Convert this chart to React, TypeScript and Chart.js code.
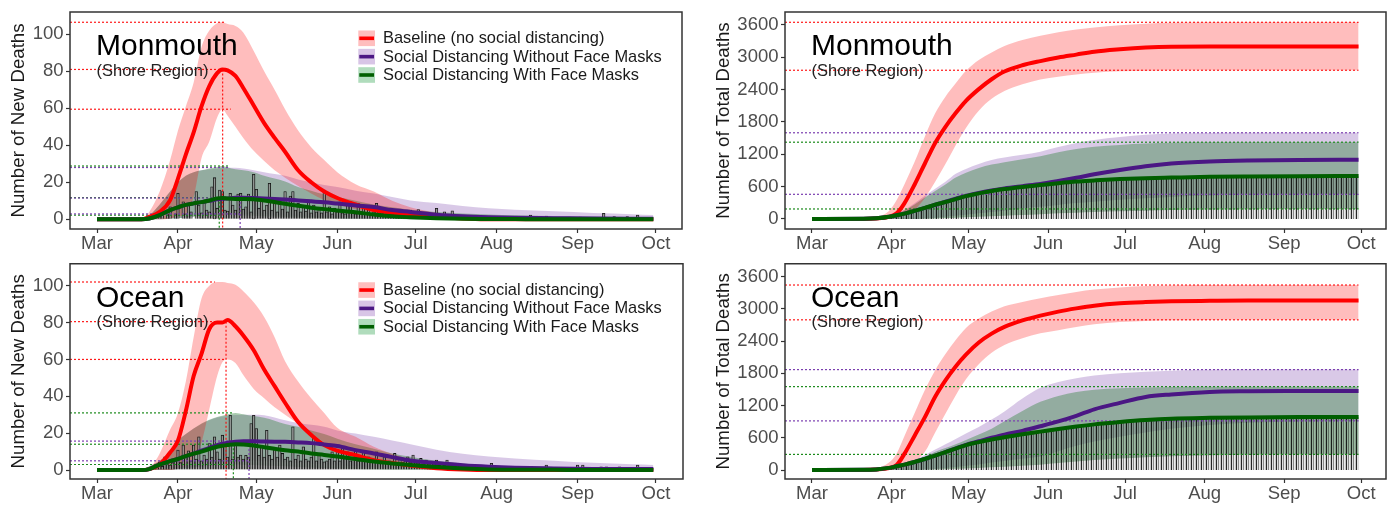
import React, { useEffect, useRef } from "react";
import { Chart, registerables } from "chart.js";

Chart.register(...registerables);

const FONT = "'Liberation Sans', Arial, Helvetica, sans-serif";

// ---------------- axes / labels ----------------
const MONTH_DAYS = [0, 31, 61, 92, 122, 153, 184, 214]; // days since 1 March
const MONTH_LABELS = ["Mar", "Apr", "May", "Jun", "Jul", "Aug", "Sep", "Oct"];
const NEW_TICKS = [0, 20, 40, 60, 80, 100];
const TOTAL_TICKS = [0, 600, 1200, 1800, 2400, 3000, 3600];
const LEGEND_LABELS = [
  "Baseline (no social distancing)",
  "Social Distancing Without Face Masks",
  "Social Distancing With Face Masks",
];
const SUBTITLE = "(Shore Region)";

// ---------------- daily new deaths ----------------
const DAYS_NEW = [0, 17, 20, 24, 28, 31, 34, 37, 40, 43, 46, 48, 50, 53, 56, 60, 64, 68, 72, 77, 82, 87, 92, 99, 106, 113, 120, 130, 140, 150, 160, 175, 190, 205, 213];

const MON_NEW_RED = [0, 0, 1.3, 4, 10.4, 22, 35, 47, 61, 72, 79, 81, 80.5, 77.5, 71, 61.5, 52, 44, 36.5, 26.5, 20, 15, 11.5, 8, 5, 3.5, 2.5, 1.2, 0.5, 0, 0, 0, 0, 0, 0];
const MON_NEW_RED_HI = [0, 0, 4, 15, 32, 48, 61, 74, 93, 102, 106, 106.5, 105.5, 104.5, 101, 91, 80, 70, 59.5, 48, 39, 32, 25.5, 19, 15, 10, 6.5, 3.5, 1.5, 0.5, 0, 0, 0, 0, 0];
const MON_NEW_RED_LO = [0, 0, 0, 0, 0.5, 1.5, 3, 12, 33, 42, 55, 59.5, 56, 50, 44, 37, 31.5, 26.5, 22.5, 18, 14, 10.5, 8, 5.5, 3.5, 2, 1.2, 0.5, 0, 0, 0, 0, 0, 0, 0];
const MON_NEW_PUR = [0, 0, 0.4, 2.3, 5, 6.5, 7.8, 8.6, 9.3, 10, 10.8, 11.1, 11.3, 11.6, 11.7, 11.5, 11.2, 11, 10.7, 10.2, 9.7, 9.2, 8.5, 7.5, 6.6, 5, 4, 2.5, 1.6, 1.1, 0.8, 0.6, 0.4, 0.3, 0.3];
const MON_NEW_PUR_HI = [0, 0, 2, 8, 15, 20, 23.5, 25.5, 26.5, 27, 27.5, 27.8, 28, 27.8, 27.5, 26.5, 25.5, 24.5, 23.5, 21.5, 20, 18.5, 17.5, 15.5, 14, 12, 10.2, 8.8, 7.2, 6, 5.2, 4.3, 3.4, 2.8, 2.3];
const MON_NEW_PUR_LO = [0, 0, 0, 0, 0.3, 0.6, 1.1, 1.6, 2, 2.3, 2.5, 2.6, 2.7, 2.8, 2.9, 2.8, 2.6, 2.3, 2, 1.6, 1.2, 0.9, 0.6, 0.4, 0.2, 0.1, 0, 0, 0, 0, 0, 0, 0, 0, 0];
const MON_NEW_GRN = [0, 0, 0.4, 2.3, 5, 6.5, 7.8, 8.6, 9.3, 10.2, 11.3, 11.5, 11.2, 11, 11, 10.8, 10.2, 9.4, 8.4, 7.3, 6.3, 5.5, 4.8, 3.8, 2.6, 1.6, 1.1, 0.6, 0.3, 0.2, 0.1, 0, 0, 0, 0];
const MON_NEW_GRN_HI = [0, 0, 2, 8, 15, 20, 23.5, 25.5, 26.5, 27.5, 28.3, 28.8, 28, 27, 26.5, 25.5, 23.5, 22, 20.5, 17.5, 15.5, 13.5, 12, 10, 8, 6.5, 5.2, 4, 3.2, 2.6, 2.2, 1.8, 1.5, 1.3, 1.3];
const MON_NEW_GRN_LO = [0, 0, 0, 0, 0.3, 0.6, 1, 1.4, 1.8, 2.1, 2.3, 2.3, 2.3, 2.2, 2.1, 1.9, 1.7, 1.5, 1.3, 1, 0.8, 0.6, 0.5, 0.3, 0.2, 0.1, 0, 0, 0, 0, 0, 0, 0, 0, 0];

const OCE_NEW_RED = [0, 0, 0.5, 3, 9.5, 16, 32, 51, 63, 76.5, 80, 80, 81.4, 78, 73, 65, 54.5, 45.5, 36.5, 26, 19, 13.5, 10.5, 8, 5.4, 3.8, 2.4, 1, 0.3, 0, 0, 0, 0, 0, 0];
const OCE_NEW_RED_HI = [0, 0, 1, 9, 22, 31, 48, 72, 93, 100, 102, 102, 101.5, 100.5, 97, 91, 83, 72, 59, 48, 39, 31, 23, 18, 12.6, 8.8, 5.8, 2.2, 0.3, 0, 0, 0, 0, 0, 0];
const OCE_NEW_RED_LO = [0, 0, 0, 0, 0, 1, 2, 6, 15, 33, 51, 58.5, 60, 58, 51.5, 44, 39, 34, 30, 25, 20, 15, 11.5, 8, 5, 3, 1.8, 0.6, 0, 0, 0, 0, 0, 0, 0];
const OCE_NEW_PUR = [0, 0, 0.5, 3, 4.8, 6, 7.6, 8.9, 10.5, 12, 13.5, 14.2, 14.8, 15.4, 15.6, 15.6, 15.5, 15.4, 15.3, 15, 14.6, 13.8, 13, 10.8, 9, 7, 5.2, 3.8, 2.6, 1.8, 1.3, 0.9, 0.6, 0.5, 0.5];
const OCE_NEW_PUR_HI = [0, 0, 2, 5, 10, 16, 19.5, 22.5, 25, 27, 28.5, 29, 29.5, 29.8, 30, 30, 29.7, 28.5, 27, 25.5, 24.5, 23.5, 21.5, 19.8, 18, 16, 14, 11, 8.8, 7.3, 6.3, 5.1, 3.9, 3.1, 2.7];
const OCE_NEW_PUR_LO = [0, 0, 0, 0, 0, 0.5, 1.2, 1.8, 2.5, 3.2, 3.8, 4.2, 4.5, 4.8, 5, 5, 4.8, 4.5, 4.2, 3.8, 3.4, 3, 2.6, 2.1, 1.6, 1.2, 0.9, 0.5, 0.3, 0.1, 0, 0, 0, 0, 0];
const OCE_NEW_GRN = [0, 0, 0.5, 3, 4.8, 6, 7.6, 8.9, 10, 11.4, 12.6, 13.2, 13.6, 14, 13.8, 13.3, 12.4, 11.5, 10.7, 10, 9, 8.2, 7.3, 6, 4.6, 3.6, 2.7, 1.6, 0.8, 0.3, 0.2, 0.1, 0, 0, 0];
const OCE_NEW_GRN_HI = [0, 0, 2, 5, 10, 16, 19.5, 22.5, 25.3, 27.3, 28.8, 29.5, 30.2, 31, 30.3, 29.3, 28.3, 26.8, 25, 23.5, 21.5, 19.5, 17, 14, 11.5, 9, 7.2, 5, 3.5, 2.6, 2, 1.6, 1.3, 1.1, 1];
const OCE_NEW_GRN_LO = [0, 0, 0, 0, 0, 0.5, 1, 1.4, 1.8, 2.2, 2.6, 2.8, 3, 3, 2.9, 2.7, 2.5, 2.3, 2, 1.7, 1.4, 1.1, 0.9, 0.6, 0.4, 0.2, 0.1, 0, 0, 0, 0, 0, 0, 0, 0];

// observed daily deaths [day, deaths]
const MON_SPIKES: [number, number][] = [
  [22, 1], [24, 1.5], [25, 4], [27, 2.5], [28, 6.8], [30, 3], [31, 14], [33, 9.5], [34, 3], [35, 7.7],
  [36, 4], [38, 15], [39, 7.7], [40, 3.5], [41, 9.5], [42, 5], [43, 4], [44, 17.6], [45, 22.5], [46, 6],
  [47, 15.8], [48, 15], [49, 5], [50, 4.5], [51, 14], [52, 7.7], [53, 5], [54, 13.6], [55, 14], [56, 5.5],
  [57, 6.8], [58, 13.6], [59, 4], [60, 24.3], [61, 16.2], [62, 6], [63, 11.2], [64, 5], [65, 7.7], [66, 19.5],
  [67, 5], [68, 8.6], [69, 4], [70, 10.4], [71, 5.5], [72, 15], [73, 4], [74, 12.6], [75, 15], [76, 5],
  [77, 8.6], [78, 4], [79, 6.8], [80, 4.5], [81, 10.4], [82, 3.5], [83, 7.7], [84, 4], [85, 6], [86, 3.5],
  [87, 15.8], [88, 4], [89, 6.8], [90, 3], [91, 6], [92, 4], [93, 9.5], [94, 3.5], [95, 3], [96, 7.7],
  [97, 9.5], [98, 4], [99, 3], [100, 8.5], [101, 4], [102, 6.8], [103, 3.5], [104, 7.7], [105, 3], [106, 4],
  [107, 8.6], [108, 3], [109, 3.5], [110, 4.1], [111, 3], [112, 3.2], [113, 2.5], [114, 3], [115, 2.5], [116, 4.1],
  [117, 3], [118, 2.5], [119, 3], [120, 5], [121, 2.5], [122, 3], [123, 5.3], [124, 2.5], [125, 3], [126, 3.2],
  [127, 2.5], [128, 2], [129, 2.5], [130, 5.9], [131, 2], [132, 2.5], [133, 4.1], [134, 2], [135, 2], [136, 4.6],
  [137, 2], [138, 2.3], [139, 1.5], [140, 1.5], [141, 2], [142, 1],
  [144, 1.4], [146, 1], [149, 1.4], [152, 1], [155, 0.8], [160, 1], [166, 2.3], [169, 1], [172, 1.8], [176, 1],
  [181, 1.2], [185, 1.2], [190, 1], [194, 3.2], [198, 1.5], [203, 1.5], [207, 2.3], [210, 1],
];
const OCE_SPIKES: [number, number][] = [
  [22, 1], [23, 2], [24, 4.5], [25, 2], [26, 7.2], [27, 3], [28, 2.7], [29, 4], [30, 5], [31, 10.8],
  [32, 4], [33, 13.5], [34, 8.1], [35, 10.4], [36, 5], [37, 13.5], [38, 6], [39, 18], [40, 5], [41, 8.1],
  [42, 6], [43, 14.4], [44, 7], [45, 18], [46, 9.9], [47, 6], [48, 18.9], [49, 13.5], [50, 7], [51, 29.7],
  [52, 6], [53, 13.5], [54, 7], [55, 8.1], [56, 6], [57, 8], [58, 7], [59, 25.2], [60, 29.7], [61, 22.5],
  [62, 8], [63, 13.5], [64, 7], [65, 21.6], [66, 8], [67, 6], [68, 11.7], [69, 7], [70, 13.5], [71, 9],
  [72, 6], [73, 7], [74, 5], [75, 23.4], [76, 6], [77, 8.1], [78, 5], [79, 12.6], [80, 6], [81, 5],
  [82, 7], [83, 18], [84, 5], [85, 8.1], [86, 6], [87, 4.5], [88, 5], [89, 6], [90, 9.9], [91, 5],
  [92, 10.8], [93, 5], [94, 11.7], [95, 6.3], [96, 9.9], [97, 5], [98, 6], [99, 10.8], [100, 5], [101, 6],
  [102, 9.9], [103, 5], [104, 7.2], [105, 5], [106, 6], [107, 9.9], [108, 5], [109, 4], [110, 7.2], [111, 4],
  [112, 5], [113, 4], [114, 9], [115, 4], [116, 6.3], [117, 4], [118, 5], [119, 7.2], [120, 4], [121, 8.1],
  [122, 4], [123, 3.5], [124, 6.3], [125, 3], [126, 5.4], [127, 3], [128, 3.5], [129, 3], [130, 5.4], [131, 2.5],
  [132, 3], [133, 2.5], [134, 5.4], [135, 2], [136, 2.5], [137, 2], [138, 2.7], [140, 1.5], [142, 2.7], [144, 1.5],
  [146, 1.8], [148, 1], [151, 3.6], [155, 1], [160, 1.8], [165, 1], [172, 2.7], [176, 1], [180, 1.2], [184, 2.7],
  [186, 2.7], [189, 1.2], [193, 1.8], [195, 1.8], [198, 1.2], [200, 1.8], [204, 1], [207, 2.7],
];

// dotted reference lines [level, last day]; peaks [day, median peak]
const MON_NEW_RED_REF: [number, number][] = [[106.5, 49.2], [81, 48.1], [59.5, 51.2]];
const MON_NEW_PUR_REF: [number, number][] = [[28, 50.3], [11.5, 54.8], [2.9, 54.8]];
const MON_NEW_GRN_REF: [number, number][] = [[28.8, 50.3], [11.7, 46.8], [2.3, 46.8]];
const MON_NEW_PEAKS: [number, number][] = [[48.1, 81], [54.8, 11.5], [46.8, 11.7]]; // red, purple, green
const OCE_NEW_RED_REF: [number, number][] = [[102, 45.2], [80.5, 49.4], [60, 49.4]];
const OCE_NEW_PUR_REF: [number, number][] = [[15.7, 58.2], [5, 58.2]];
const OCE_NEW_GRN_REF: [number, number][] = [[31, 52.2], [14, 52.2], [3, 52.2]];
const OCE_NEW_PEAKS: [number, number][] = [[49.4, 80.5], [58.2, 15.7], [52.2, 14]];

// ---------------- cumulative deaths ----------------
const DAYS_TOTAL = [0, 20, 25, 30, 33, 36, 40, 44, 48, 52, 56, 60, 65, 70, 75, 82, 89, 96, 103, 110, 120, 130, 140, 155, 170, 190, 213];

const MON_TOT_RED = [0, 2, 10, 40, 105, 290, 640, 1030, 1410, 1710, 1965, 2192, 2410, 2593, 2736, 2853, 2930, 2995, 3050, 3105, 3150, 3182, 3197, 3200, 3200, 3200, 3200];
const MON_TOT_RED_HI = [0, 5, 30, 150, 353, 640, 1060, 1530, 1960, 2270, 2520, 2750, 2950, 3090, 3210, 3320, 3400, 3465, 3515, 3555, 3595, 3625, 3640, 3650, 3650, 3650, 3650];
const MON_TOT_RED_LO = [0, 0, 0, 10, 30, 60, 170, 390, 690, 1020, 1370, 1690, 2010, 2230, 2375, 2500, 2590, 2640, 2680, 2715, 2740, 2752, 2758, 2760, 2760, 2760, 2760];
const MON_TOT_PUR = [0, 3, 12, 40, 70, 100, 150, 205, 265, 320, 375, 430, 485, 530, 568, 610, 650, 705, 765, 830, 910, 980, 1030, 1068, 1086, 1097, 1101];
const MON_TOT_PUR_HI = [0, 3, 15, 50, 105, 170, 290, 430, 560, 690, 840, 930, 1020, 1095, 1140, 1190, 1250, 1335, 1410, 1465, 1520, 1565, 1588, 1598, 1600, 1600, 1600];
const MON_TOT_PUR_LO = [0, 0, 0, 0, 0, 0, 0, 10, 25, 40, 60, 80, 105, 130, 155, 195, 228, 262, 295, 320, 355, 385, 410, 435, 448, 455, 458];
const MON_TOT_GRN = [0, 3, 12, 40, 70, 100, 150, 205, 265, 315, 370, 425, 475, 520, 555, 595, 630, 665, 695, 715, 740, 757, 768, 783, 790, 795, 798];
const MON_TOT_GRN_HI = [0, 3, 15, 50, 100, 160, 270, 400, 520, 640, 770, 860, 945, 1010, 1055, 1110, 1165, 1240, 1300, 1340, 1375, 1400, 1415, 1422, 1425, 1425, 1425];
const MON_TOT_GRN_LO = [0, 0, 0, 0, 0, 0, 0, 5, 10, 17, 25, 33, 42, 52, 62, 75, 90, 105, 117, 128, 142, 155, 165, 175, 181, 184, 186];

const OCE_TOT_RED = [0, 2, 10, 35, 93, 300, 640, 985, 1365, 1670, 1930, 2150, 2375, 2540, 2665, 2785, 2875, 2950, 3010, 3060, 3105, 3128, 3142, 3150, 3155, 3155, 3155];
const OCE_TOT_RED_HI = [0, 5, 30, 140, 310, 630, 1060, 1490, 1860, 2160, 2420, 2645, 2820, 2950, 3050, 3130, 3200, 3260, 3315, 3360, 3400, 3425, 3438, 3445, 3445, 3445, 3445];
const OCE_TOT_RED_LO = [0, 0, 0, 10, 25, 55, 160, 340, 700, 1050, 1390, 1690, 1970, 2185, 2330, 2455, 2545, 2605, 2665, 2715, 2755, 2775, 2788, 2795, 2797, 2797, 2797];
const OCE_TOT_PUR = [0, 3, 12, 40, 70, 100, 150, 205, 270, 335, 405, 470, 535, 600, 660, 730, 815, 905, 1010, 1130, 1250, 1360, 1408, 1455, 1467, 1471, 1472];
const OCE_TOT_PUR_HI = [0, 3, 12, 40, 80, 120, 190, 280, 380, 480, 580, 680, 800, 940, 1090, 1330, 1530, 1640, 1710, 1760, 1800, 1830, 1850, 1865, 1870, 1870, 1870];
const OCE_TOT_PUR_LO = [0, 0, 0, 0, 0, 0, 0, 10, 20, 40, 55, 80, 105, 140, 170, 210, 250, 350, 450, 530, 620, 700, 770, 840, 880, 905, 915];
const OCE_TOT_GRN = [0, 3, 12, 40, 70, 100, 150, 205, 270, 335, 400, 465, 520, 570, 610, 665, 715, 765, 810, 850, 895, 932, 957, 972, 980, 986, 989];
const OCE_TOT_GRN_HI = [0, 3, 12, 40, 70, 100, 170, 250, 340, 410, 480, 560, 660, 770, 910, 1100, 1270, 1380, 1455, 1495, 1522, 1537, 1545, 1550, 1553, 1553, 1553];
const OCE_TOT_GRN_LO = [0, 0, 0, 0, 0, 0, 0, 5, 10, 15, 22, 30, 40, 50, 62, 80, 100, 130, 160, 185, 215, 240, 258, 275, 284, 289, 291];

const MON_TOT_RED_REF: [number, number][] = [[3650, 213], [2760, 213]];
const MON_TOT_PUR_REF: [number, number][] = [[1600, 213], [458, 213]];
const MON_TOT_GRN_REF: [number, number][] = [[1425, 213], [186, 213]];
const OCE_TOT_RED_REF: [number, number][] = [[3445, 213], [2797, 213]];
const OCE_TOT_PUR_REF: [number, number][] = [[1870, 213], [915, 213]];
const OCE_TOT_GRN_REF: [number, number][] = [[1553, 213], [291, 213]];

// ---------------- styles ----------------
const RED_LINE = "#ff0000";
const PUR_LINE = "#4b1784";
const GRN_LINE = "#005f00";
const RED_BAND = "rgba(255,0,0,0.26)";
const PUR_BAND = "rgba(120,60,170,0.28)";
const GRN_BAND = "rgba(63,138,75,0.45)";
const RED_REF = "rgba(255,0,0,0.9)";
const PUR_REF = "#7b3fb0";
const GRN_REF = "#1b8a1b";
const KEY_FILL = ["rgb(255,190,190)", "rgb(216,197,230)", "rgb(176,220,188)"];
const KEY_LINE = [RED_LINE, PUR_LINE, GRN_LINE];
const TICK_COLOR = "#4d4d4d";

type Scenario = { med: number[]; lo: number[]; hi: number[]; refs: [number, number][] };
type PanelSpec = {
  canvas: { left: number; top: number; width: number; height: number };
  area: { left: number; top: number; right: number; bottom: number };
  xMin: number; xMax: number; yMin: number; yMax: number;
  yTicks: number[]; yTitle: string; yTitlePad: number;
  title: string; legend: boolean;
  days: number[];
  red: Scenario; pur: Scenario; grn: Scenario;
  spikes?: [number, number][];
  peaks?: [number, number][];
  stripes?: boolean;
};

const PANELS: PanelSpec[] = [
  {
    canvas: { left: 0, top: 0, width: 695, height: 258 },
    area: { left: 70, top: 12, right: 682, bottom: 229 },
    xMin: -10.34, xMax: 223.97, yMin: -5.24, yMax: 112.05,
    yTicks: NEW_TICKS, yTitle: "Number of New Deaths", yTitlePad: 7.3,
    title: "Monmouth", legend: true, days: DAYS_NEW,
    red: { med: MON_NEW_RED, lo: MON_NEW_RED_LO, hi: MON_NEW_RED_HI, refs: MON_NEW_RED_REF },
    pur: { med: MON_NEW_PUR, lo: MON_NEW_PUR_LO, hi: MON_NEW_PUR_HI, refs: MON_NEW_PUR_REF },
    grn: { med: MON_NEW_GRN, lo: MON_NEW_GRN_LO, hi: MON_NEW_GRN_HI, refs: MON_NEW_GRN_REF },
    spikes: MON_SPIKES, peaks: MON_NEW_PEAKS,
  },
  {
    canvas: { left: 706, top: 0, width: 689, height: 258 },
    area: { left: 785, top: 12, right: 1386, bottom: 229 },
    xMin: -10.52, xMax: 223.69, yMin: -185.6, yMax: 3841,
    yTicks: TOTAL_TICKS, yTitle: "Number of Total Deaths", yTitlePad: 6.8,
    title: "Monmouth", legend: false, days: DAYS_TOTAL,
    red: { med: MON_TOT_RED, lo: MON_TOT_RED_LO, hi: MON_TOT_RED_HI, refs: MON_TOT_RED_REF },
    pur: { med: MON_TOT_PUR, lo: MON_TOT_PUR_LO, hi: MON_TOT_PUR_HI, refs: MON_TOT_PUR_REF },
    grn: { med: MON_TOT_GRN, lo: MON_TOT_GRN_LO, hi: MON_TOT_GRN_HI, refs: MON_TOT_GRN_REF },
    stripes: true,
  },
  {
    canvas: { left: 0, top: 252, width: 695, height: 253 },
    area: { left: 70, top: 263, right: 683, bottom: 479 },
    xMin: -10.34, xMax: 224.35, yMin: -4.86, yMax: 111.9,
    yTicks: NEW_TICKS, yTitle: "Number of New Deaths", yTitlePad: 7.3,
    title: "Ocean", legend: true, days: DAYS_NEW,
    red: { med: OCE_NEW_RED, lo: OCE_NEW_RED_LO, hi: OCE_NEW_RED_HI, refs: OCE_NEW_RED_REF },
    pur: { med: OCE_NEW_PUR, lo: OCE_NEW_PUR_LO, hi: OCE_NEW_PUR_HI, refs: OCE_NEW_PUR_REF },
    grn: { med: OCE_NEW_GRN, lo: OCE_NEW_GRN_LO, hi: OCE_NEW_GRN_HI, refs: OCE_NEW_GRN_REF },
    spikes: OCE_SPIKES, peaks: OCE_NEW_PEAKS,
  },
  {
    canvas: { left: 706, top: 252, width: 689, height: 253 },
    area: { left: 785, top: 263, right: 1386, bottom: 479 },
    xMin: -10.52, xMax: 223.69, yMin: -167, yMax: 3841,
    yTicks: TOTAL_TICKS, yTitle: "Number of Total Deaths", yTitlePad: 6.8,
    title: "Ocean", legend: false, days: DAYS_TOTAL,
    red: { med: OCE_TOT_RED, lo: OCE_TOT_RED_LO, hi: OCE_TOT_RED_HI, refs: OCE_TOT_RED_REF },
    pur: { med: OCE_TOT_PUR, lo: OCE_TOT_PUR_LO, hi: OCE_TOT_PUR_HI, refs: OCE_TOT_PUR_REF },
    grn: { med: OCE_TOT_GRN, lo: OCE_TOT_GRN_LO, hi: OCE_TOT_GRN_HI, refs: OCE_TOT_GRN_REF },
    stripes: true,
  },
];

function makeStripePattern(): CanvasPattern | string {
  const c = document.createElement("canvas");
  c.width = 5;
  c.height = 4;
  const g = c.getContext("2d");
  if (!g) return "rgba(0,0,0,0.35)";
  const cols = ["rgba(0,0,0,0.85)", "rgba(0,0,0,0.12)", "rgba(40,40,40,0.55)", "rgba(0,0,0,0.08)", "rgba(0,0,0,0.22)"];
  cols.forEach((col, i) => {
    g.fillStyle = col;
    g.fillRect(i, 0, 1, 4);
  });
  return g.createPattern(c, "repeat") || "rgba(0,0,0,0.35)";
}

function makeDecor(spec: PanelSpec) {
  return {
    id: "panelDecor",
    afterDraw(chart: any) {
      const { ctx, chartArea: a } = chart;
      ctx.save();
      ctx.strokeStyle = "#333";
      ctx.lineWidth = 1.5;
      ctx.strokeRect(a.left, a.top, a.right - a.left, a.bottom - a.top);
      ctx.textAlign = "left";
      ctx.textBaseline = "alphabetic";
      ctx.fillStyle = "#000";
      ctx.font = `30px ${FONT}`;
      ctx.fillText(spec.title, a.left + 26, a.top + 43);
      ctx.fillStyle = "#222";
      ctx.font = `16.5px ${FONT}`;
      ctx.fillText(SUBTITLE, a.left + 26.5, a.top + 63.5);
      if (spec.legend) {
        const keyX = a.left + 288.3;
        LEGEND_LABELS.forEach((label, i) => {
          const cy = a.top + 26.3 + i * 18.35;
          ctx.fillStyle = KEY_FILL[i];
          ctx.fillRect(keyX, cy - 7.8, 16.7, 15.6);
          ctx.fillStyle = KEY_LINE[i];
          ctx.fillRect(keyX + 1, cy - 1.8, 14.7, 3.6);
          ctx.fillStyle = "#1a1a1a";
          ctx.font = `16.4px ${FONT}`;
          ctx.textBaseline = "middle";
          ctx.fillText(label, a.left + 313, cy + 0.5);
        });
      }
      ctx.restore();
    },
  };
}

function buildConfig(s: PanelSpec): any {
  const pts = (days: number[], vals: number[]) => days.map((d, i) => ({ x: d, y: vals[i] }));
  const ds: any[] = [];
  const common = { pointRadius: 0, pointHoverRadius: 0, cubicInterpolationMode: "monotone" };
  const band = (sc: Scenario, color: string, order: number) => {
    ds.push({ type: "line", data: pts(s.days, sc.hi), borderWidth: 0, borderColor: "transparent", backgroundColor: color, fill: "+1", order, ...common });
    ds.push({ type: "line", data: pts(s.days, sc.lo), borderWidth: 0, borderColor: "transparent", fill: false, order, ...common });
  };
  band(s.pur, PUR_BAND, 9);
  band(s.grn, GRN_BAND, 8);
  band(s.red, RED_BAND, 7);

  if (s.spikes) {
    ds.push({
      type: "bar",
      data: s.spikes.map(([d, v]) => ({ x: d, y: v })),
      backgroundColor: "rgba(215,215,215,0.55)",
      borderColor: "rgba(0,0,0,0.9)",
      borderWidth: 0.8,
      barThickness: 2.6,
      grouped: false,
      order: 5,
    });
  }
  if (s.stripes) {
    ds.push({ type: "line", data: pts(s.days, s.grn.med), borderWidth: 0, borderColor: "transparent", backgroundColor: makeStripePattern(), fill: "origin", order: 5, ...common });
  }

  const refSets: [[number, number][], string][] = [[s.red.refs, RED_REF], [s.pur.refs, PUR_REF], [s.grn.refs, GRN_REF]];
  refSets.forEach(([refs, color]) => {
    refs.forEach(([level, to]) => {
      ds.push({ type: "line", data: [{ x: s.xMin, y: level }, { x: to, y: level }], borderColor: color, borderWidth: 1.2, borderDash: [2, 2], fill: false, pointRadius: 0, order: 4 });
    });
  });
  if (s.peaks) {
    const cols = [RED_REF, PUR_REF, GRN_REF];
    s.peaks.forEach(([day, peak], i) => {
      ds.push({ type: "line", data: [{ x: day, y: peak }, { x: day, y: s.yMin }], borderColor: cols[i], borderWidth: 1.2, borderDash: [2, 2], fill: false, pointRadius: 0, order: 4 });
    });
  }

  ds.push({ type: "line", data: pts(s.days, s.red.med), borderColor: RED_LINE, borderWidth: 4, fill: false, order: 3, ...common });
  ds.push({ type: "line", data: pts(s.days, s.pur.med), borderColor: PUR_LINE, borderWidth: 4, fill: false, order: 2, ...common });
  ds.push({ type: "line", data: pts(s.days, s.grn.med), borderColor: GRN_LINE, borderWidth: 4, fill: false, order: 1, ...common });

  const yAxisW = s.area.left - s.canvas.left;
  const xAxisH = s.canvas.top + s.canvas.height - s.area.bottom;
  const tickFont = { family: FONT, size: 18.5, lineHeight: 1 };

  return {
    type: "line",
    data: { datasets: ds },
    plugins: [makeDecor(s)],
    options: {
      responsive: false,
      animation: false,
      devicePixelRatio: 1,
      events: [],
      layout: {
        autoPadding: false,
        padding: { left: 0, top: s.area.top - s.canvas.top, right: s.canvas.left + s.canvas.width - s.area.right, bottom: 0 },
      },
      plugins: { legend: { display: false }, tooltip: { enabled: false }, title: { display: false } },
      scales: {
        x: {
          type: "linear",
          min: s.xMin,
          max: s.xMax,
          offset: false,
          afterBuildTicks: (sc: any) => { sc.ticks = MONTH_DAYS.map((v) => ({ value: v })); },
          afterFit: (sc: any) => { sc.height = xAxisH; },
          ticks: {
            autoSkip: false, maxRotation: 0, minRotation: 0, padding: 1.5, color: TICK_COLOR, font: tickFont,
            callback: (v: any) => MONTH_LABELS[MONTH_DAYS.indexOf(Number(v))] ?? "",
          },
          grid: { display: true, drawOnChartArea: false, drawTicks: true, tickLength: 4, tickColor: "#333", tickWidth: 1.2, offset: false },
          border: { display: false },
        },
        y: {
          type: "linear",
          min: s.yMin,
          max: s.yMax,
          afterBuildTicks: (sc: any) => { sc.ticks = s.yTicks.map((v) => ({ value: v })); },
          afterFit: (sc: any) => { sc.width = yAxisW; },
          ticks: { padding: 2.5, color: TICK_COLOR, font: tickFont, callback: (v: any) => String(v) },
          grid: { display: true, drawOnChartArea: false, drawTicks: true, tickLength: 4, tickColor: "#333", tickWidth: 1.2 },
          border: { display: false },
          title: { display: true, text: s.yTitle, color: "#1a1a1a", font: { family: FONT, size: 18.7 }, padding: { top: s.yTitlePad, bottom: 0 } },
        },
      },
    },
  };
}

function Panel({ spec }: { spec: PanelSpec }) {
  const ref = useRef<HTMLCanvasElement>(null);
  useEffect(() => {
    if (!ref.current) return;
    const chart = new Chart(ref.current, buildConfig(spec));
    return () => chart.destroy();
  }, [spec]);
  const c = spec.canvas;
  return (
    <canvas
      ref={ref}
      width={c.width}
      height={c.height}
      style={{ position: "absolute", left: c.left, top: c.top, width: c.width, height: c.height }}
    />
  );
}

export default function App() {
  return (
    <div style={{ position: "fixed", left: 0, top: 0, width: 1395, height: 505, background: "#fff", overflow: "hidden" }}>
      {PANELS.map((p, i) => (
        <Panel key={i} spec={p} />
      ))}
    </div>
  );
}
